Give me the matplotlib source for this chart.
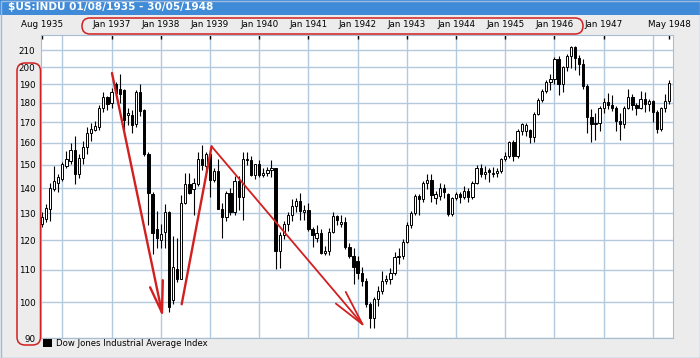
import numpy as np
import matplotlib.pyplot as plt
from matplotlib.patches import FancyBboxPatch, Rectangle
from matplotlib.ticker import NullLocator

# Dow Jones Industrial Average, monthly candles Aug 1935 .. May 1948
# one row per year (1935 starts in August, 1948 ends in May)
opens = [
    125.9, 127.7, 131.6, 139.8, 142.3,
    143.7, 149.4, 151.6, 156.8, 145.8, 153.1, 158.0, 164.6, 165.9, 167.5, 177.1, 182.9,
    179.8, 190.5, 187.5, 187.0, 173.5, 173.6, 169.0, 186.0, 176.3, 154.6, 137.5, 124.1,
    120.1, 122.9, 130.3, 100.6, 110.4, 107.2, 134.1, 141.6, 139.5, 141.6, 152.3, 149.4,
    154.8, 143.3, 147.3, 131.8, 128.5, 138.0, 130.6, 143.0, 136.2, 152.5, 151.9, 145.7,
    150.2, 145.3, 146.5, 147.5, 148.4, 116.2, 121.9, 126.1, 129.4, 132.6, 134.6, 130.5,
    131.1, 124.1, 121.0, 122.7, 115.5, 116.2, 123.1, 128.8, 126.0, 126.8, 117.8, 114.7,
    113.0, 109.1, 106.6, 99.5, 95.35, 100.9, 103.3, 106.4, 107.0, 109.1, 114.1, 114.5,
    119.4, 125.6, 130.0, 136.6, 135.5, 142.1, 143.4, 136.0, 136.8, 140.1, 137.5, 129.6,
    135.9, 137.4, 136.3, 138.8, 136.2, 142.2, 148.4, 146.1, 147.5, 146.0, 146.5, 147.3,
    152.3, 153.8, 160.4, 154.1, 165.4, 165.5, 166.0, 162.9, 174.3, 181.7, 186.6, 191.5,
    193.0, 204.7, 190.1, 199.8, 206.8, 212.3, 205.6, 201.6, 189.2, 172.4, 169.2, 169.8,
    177.2, 180.4, 178.9, 177.2, 170.6, 169.3, 177.3, 183.2, 178.9, 177.5, 181.8, 179.4,
    181.2, 175.1, 166.8, 177.2, 180.9,
]
highs = [
    130.3, 133.5, 142.3, 149.4, 145.8,
    151.0, 156.0, 159.9, 163.0, 154.6, 160.6, 167.5, 169.5, 170.6, 178.7, 186.0, 183.6,
    187.8, 191.5, 196.2, 187.5, 177.1, 176.3, 186.7, 190.5, 176.5, 155.5, 138.5, 131.0,
    126.0, 133.5, 131.0, 121.5, 121.0, 137.0, 146.5, 146.5, 144.4, 155.5, 158.9, 155.5,
    155.5, 148.6, 152.3, 134.0, 139.0, 140.0, 145.0, 145.0, 155.9, 155.9, 154.0, 150.5,
    152.0, 148.5, 149.0, 152.0, 148.6, 123.0, 127.0, 130.5, 135.5, 136.0, 138.1, 133.0,
    134.0, 125.0, 125.5, 124.0, 118.0, 124.5, 130.5, 129.5, 129.5, 128.5, 119.0, 117.5,
    114.5, 111.0, 107.5, 100.0, 101.5, 105.0, 109.5, 108.5, 110.5, 116.0, 117.3, 120.5,
    126.5, 131.0, 137.5, 137.5, 143.0, 145.8, 146.0, 139.0, 142.0, 141.5, 138.0, 136.5,
    138.5, 138.5, 141.0, 140.0, 143.0, 150.0, 150.5, 149.5, 148.5, 149.0, 148.5, 153.0,
    155.5, 161.0, 161.5, 166.5, 169.5, 169.8, 166.5, 175.0, 182.5, 187.5, 192.5, 196.0,
    206.0, 206.5, 200.5, 208.0, 213.0, 213.0, 207.5, 205.0, 190.0, 176.5, 174.5, 178.5,
    182.5, 185.0, 184.0, 178.5, 174.5, 178.5, 187.7, 184.5, 180.0, 186.5, 186.0, 182.0,
    181.5, 176.0, 178.0, 184.5, 192.5,
]
lows = [
    124.7, 126.7, 127.1, 138.8, 138.4,
    143.0, 148.6, 150.5, 141.6, 144.4, 150.5, 154.6, 160.6, 165.5, 166.2, 175.0, 176.3,
    177.1, 183.5, 179.8, 166.2, 168.6, 164.6, 167.5, 173.0, 153.8, 125.5, 115.4, 117.2,
    117.2, 117.2, 97.2, 99.6, 106.2, 107.0, 133.7, 137.5, 129.5, 141.0, 147.5, 146.5,
    136.4, 142.5, 131.5, 121.0, 127.0, 129.5, 129.5, 131.3, 127.4, 150.0, 145.0, 144.0,
    144.5, 144.5, 145.0, 144.5, 110.4, 110.5, 120.5, 123.5, 127.0, 130.5, 127.4, 127.5,
    123.5, 117.7, 119.5, 115.3, 115.0, 115.0, 122.5, 125.5, 125.0, 117.0, 114.0, 105.5,
    107.0, 105.0, 98.5, 92.7, 92.8, 99.0, 102.5, 105.5, 105.5, 108.5, 112.0, 113.5,
    119.0, 124.5, 129.5, 129.5, 134.5, 139.5, 134.5, 133.5, 135.0, 136.0, 129.0, 128.9,
    135.0, 134.0, 135.5, 134.5, 135.5, 141.5, 144.5, 144.0, 142.5, 144.5, 144.5, 146.5,
    151.5, 153.0, 151.5, 153.0, 163.5, 163.0, 160.0, 160.5, 173.5, 180.5, 185.5, 187.0,
    190.0, 184.4, 186.0, 197.5, 199.5, 198.5, 195.5, 187.5, 164.5, 160.5, 161.5, 165.5,
    174.5, 176.5, 175.5, 165.5, 161.5, 167.0, 176.5, 176.0, 173.5, 176.5, 175.0, 175.5,
    170.0, 164.5, 165.4, 175.0, 179.5,
]
closes = [
    128.4, 132.2, 140.2, 143.0, 144.8,
    150.1, 152.3, 156.8, 145.8, 153.1, 158.0, 164.9, 166.5, 168.2, 177.1, 182.9, 179.5,
    186.0, 185.5, 184.5, 171.2, 174.9, 168.6, 185.7, 175.6, 154.6, 138.1, 122.5, 120.9,
    122.3, 130.3, 98.6, 111.0, 107.2, 134.1, 141.6, 138.1, 142.0, 152.3, 149.8, 154.8,
    143.3, 147.3, 131.8, 128.5, 138.0, 130.6, 143.0, 136.2, 152.5, 151.9, 145.7, 150.2,
    145.3, 146.5, 147.5, 148.4, 116.2, 121.9, 126.1, 129.4, 132.6, 134.6, 131.0, 131.1,
    124.1, 121.8, 122.7, 115.5, 116.2, 123.1, 128.8, 127.4, 126.8, 117.8, 114.7, 111.0,
    109.1, 106.6, 99.5, 95.35, 100.9, 103.3, 106.4, 107.0, 109.1, 114.1, 114.5, 119.4,
    125.6, 130.0, 136.6, 135.5, 142.1, 143.4, 137.0, 137.5, 140.1, 138.3, 129.6, 135.9,
    137.4, 136.3, 138.8, 136.2, 142.2, 148.4, 146.1, 146.7, 146.7, 146.5, 147.3, 152.3,
    153.8, 160.4, 154.1, 165.4, 169.1, 168.5, 162.9, 174.3, 181.7, 186.6, 191.5, 193.0,
    204.7, 190.1, 199.8, 206.8, 212.3, 205.6, 201.6, 189.2, 172.4, 169.2, 169.8, 177.2,
    180.4, 178.9, 177.2, 170.6, 169.3, 177.3, 183.2, 178.9, 177.5, 181.8, 179.4, 181.2,
    175.1, 166.8, 177.2, 180.9, 190.7,
]

# axis text (month index 0 = Aug 1935)
tick_months = [0, 17, 29, 41, 53, 65, 77, 89, 101, 113, 125, 137, 153]
tick_labels = ['Aug 1935', 'Jan 1937', 'Jan 1938', 'Jan 1939', 'Jan 1940', 'Jan 1941',
               'Jan 1942', 'Jan 1943', 'Jan 1944', 'Jan 1945', 'Jan 1946', 'Jan 1947',
               'May 1948']
jan_months = [5, 17, 29, 41, 53, 65, 77, 89, 101, 113, 125, 137, 149]
y_ticks = [90, 100, 110, 120, 130, 140, 150, 160, 170, 180, 190, 200, 210]

# red hand-drawn trend lines (month index, price)
down1 = [(17.1, 196.5), (29.3, 97.0)]
head1 = [(26.4, 104.5), (29.3, 97.0), (29.5, 106.7)]
up1 = [(34.1, 99.4), (41.4, 158.3)]
down2 = [(41.4, 158.3), (78.2, 93.7)]
head2 = [(71.7, 99.6), (78.2, 93.7), (74.1, 103.1)]

W, H = 700, 358
RED = '#d21f1f'
GRID = '#b3c9de'

plt.rcParams['font.family'] = 'DejaVu Sans'
fig = plt.figure(figsize=(W / 100, H / 100), dpi=100, facecolor='#ececec')
ax = fig.add_axes([41 / W, 1 - 338 / H, (673 - 41) / W, (338 - 35) / H])

# title bar
fig.patches.append(Rectangle((0, 1 - 15 / H), 1, 15 / H, transform=fig.transFigure,
                             facecolor='#3f8bd8', edgecolor='none'))
fig.text(8 / W, 1 - 7.5 / H, r'\$US:INDU 01/08/1935 - 30/05/1948', color='white',
         fontsize=7.6, fontweight='bold', va='center', ha='left')

# grid
for yv in y_ticks:
    ax.axhline(yv, color=GRID, lw=1, zorder=0)
for m in jan_months:
    ax.axvline(m, color=GRID, lw=1, zorder=0)

# candles
o, hi, lo, c = map(np.array, (opens, highs, lows, closes))
x = np.arange(len(c))
up = c >= o
ax.vlines(x, lo, hi, color='black', lw=0.8, zorder=2)
ax.bar(x[up], (c - o)[up], bottom=o[up], width=0.55, facecolor='white',
       edgecolor='black', lw=0.7, zorder=3)
ax.bar(x[~up], (o - c)[~up], bottom=c[~up], width=0.55, facecolor='black',
       edgecolor='black', lw=0.7, zorder=3)

# red sketch
for seg, lw in ((down1, 1.7), (head1, 1.7), (up1, 1.7), (down2, 1.3), (head2, 1.3)):
    xs, ys = zip(*seg)
    ax.plot(xs, ys, color=RED, lw=lw, zorder=5, solid_capstyle='round')

ax.set_yscale('log')
ax.set_ylim(90, 219.8)
ax.set_xlim(-0.2, 153.9)
ax.set_yticks(y_ticks, [str(v) for v in y_ticks])
ax.yaxis.set_minor_locator(NullLocator())
ax.xaxis.tick_top()
ax.set_xticks(tick_months, tick_labels)
ax.tick_params(axis='x', direction='in', length=3, width=1, color='black',
               pad=4, labelsize=6.3)
ax.tick_params(axis='y', length=0, pad=4, labelsize=6.3)
for s in ax.spines.values():
    s.set_color('#a9bdd1')
ax.set_facecolor('white')

# red rounded frames round the axis labels (pixel boxes in inches)
def pill(x0, y0, x1, y1):
    fig.patches.append(FancyBboxPatch((x0 / 100, (H - y1) / 100), (x1 - x0) / 100,
                                      (y1 - y0) / 100,
                                      boxstyle='round,pad=0,rounding_size=0.08',
                                      transform=fig.dpi_scale_trans, fill=False,
                                      edgecolor=RED, lw=1.1))

pill(82, 18, 583, 34)
pill(17, 63, 40.5, 345)

# legend
fig.patches.append(Rectangle((43 / 100, (H - 347) / 100), 0.09, 0.08,
                             transform=fig.dpi_scale_trans, facecolor='black'))
fig.text(56 / W, 1 - 343 / H, 'Dow Jones Industrial Average Index', fontsize=6.1,
         va='center', ha='left')

# outer frame
fig.patches.append(Rectangle((0.5 / W, 0.5 / H), 1 - 1 / W, 1 - 1 / H,
                             transform=fig.transFigure, fill=False,
                             edgecolor='#9dbbe0', lw=1))

fig.savefig('out.png', dpi=100, facecolor=fig.get_facecolor())
